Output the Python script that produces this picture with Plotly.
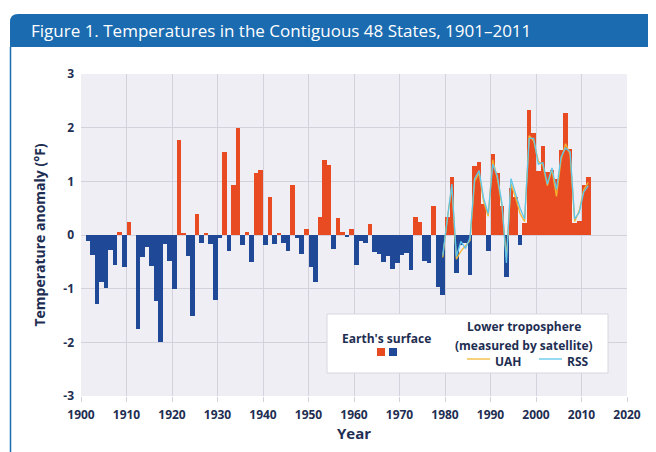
import plotly.graph_objects as go

# ---------------- data ----------------
years = list(range(1901, 2012))
surface_anomaly = [
    -0.12, -0.37, -1.28, -0.88, -0.99, -0.28, -0.56, 0.05, -0.60, 0.25,   # 1901-1910
    0.00, -1.76, -0.41, -0.22, -0.57, -1.23, -2.00, -0.17, -0.49, -1.00,  # 1911-1920
    1.77, 0.02, -0.39, -1.51, 0.40, -0.15, 0.03, -0.17, -1.22, -0.06,     # 1921-1930
    1.54, -0.30, 0.93, 2.00, -0.19, 0.05, -0.51, 1.15, 1.22, -0.19,       # 1931-1940
    0.71, -0.17, 0.03, -0.15, -0.30, 0.93, -0.06, -0.35, 0.11, -0.60,     # 1941-1950
    -0.88, 0.33, 1.39, 1.30, -0.26, 0.32, 0.06, -0.04, 0.11, -0.56,       # 1951-1960
    -0.12, -0.14, 0.20, -0.31, -0.35, -0.51, -0.40, -0.63, -0.52, -0.37,  # 1961-1970
    -0.34, -0.65, 0.33, 0.25, -0.48, -0.52, 0.54, -0.97, -1.11, 0.33,     # 1971-1980
    1.09, -0.70, -0.19, -0.15, -0.74, 1.28, 1.36, 0.58, -0.29, 1.51,      # 1981-1990
    1.15, 0.54, -0.78, 0.87, 0.70, -0.19, 0.23, 2.33, 1.90, 1.20,         # 1991-2000
    1.65, 1.17, 1.22, 1.05, 1.58, 2.27, 1.60, 0.22, 0.26, 0.94,           # 2001-2010
    1.08,                                                                 # 2011
]

sat_years = list(range(1979, 2012))
uah = [
    -0.42, 0.30, 0.90, -0.45, -0.30, -0.20, -0.10, 1.00, 1.15, 0.62,
    0.35, 1.40, 1.05, 0.55, -0.42, 0.95, 0.70, 0.40, 0.25, 1.85,
    1.75, 1.38, 1.30, 0.92, 1.22, 0.72, 1.40, 1.70, 1.50, 0.25,
    0.45, 0.85, 0.98,
]
rss = [
    -0.38, 0.28, 0.95, -0.40, -0.12, -0.25, -0.05, 1.05, 1.20, 0.68,
    0.40, 1.32, 1.10, 0.60, -0.52, 1.05, 0.78, 0.50, 0.30, 1.80,
    1.80, 1.32, 1.35, 0.95, 1.25, 0.85, 1.45, 1.62, 1.55, 0.30,
    0.42, 0.80, 0.92,
]

x_ticks = list(range(1900, 2021, 10))
y_ticks = [-3, -2, -1, 0, 1, 2, 3]

# ---------------- styles ----------------
RED = "#E84A22"
BLUE = "#1F4996"
UAH_C = "#F2B632"
RSS_C = "#5EC6EA"
NAVY = "#1E2E52"
BAND = "#1B6BB0"
FONT = "Open Sans"

# page body has an 8px margin, so the figure is sized/positioned to compensate
OFF = 8
W, H = 656 - OFF, 452 - OFF
PLOT_X0, PLOT_X1, PLOT_Y0, PLOT_Y1 = 81, 627, 74, 396   # page pixels of plot area
L, T = PLOT_X0 - OFF, PLOT_Y0 - OFF
R, B = W - (PLOT_X1 - OFF), H - (PLOT_Y1 - OFF)
PW, PH = W - L - R, H - T - B


def px(xp):
    return (xp - OFF - L) / PW


def py(yp):
    return (H - B - (yp - OFF)) / PH


bar_colors = [RED if v >= 0 else BLUE for v in surface_anomaly]

fig = go.Figure()
fig.add_trace(go.Bar(
    x=years, y=surface_anomaly, width=1, offset=0,
    marker=dict(color=bar_colors, line=dict(width=0)),
    showlegend=False, hoverinfo="x+y",
))
fig.add_trace(go.Scatter(
    x=[y + 0.5 for y in sat_years], y=uah, mode="lines",
    line=dict(color=UAH_C, width=1.3), showlegend=False, name="UAH",
))
fig.add_trace(go.Scatter(
    x=[y + 0.5 for y in sat_years], y=rss, mode="lines",
    line=dict(color=RSS_C, width=1.3), showlegend=False, name="RSS",
))

tickfont = dict(family=FONT, size=12, color=NAVY, weight="bold")

fig.update_layout(
    width=W, height=H,
    margin=dict(l=L, r=R, t=T, b=B, autoexpand=False),
    paper_bgcolor="white",
    plot_bgcolor="#EFEEF5",
    bargap=0,
    xaxis=dict(
        range=[1900, 2020], tickvals=x_ticks, ticktext=[str(v) for v in x_ticks],
        showgrid=True, gridcolor="#D3D1DC", gridwidth=1,
        zeroline=False, showline=False,
        ticks="outside", ticklen=5, tickcolor="#D3D1DC",
        ticklabelstandoff=3,
        tickfont=tickfont, automargin=False,
        title=dict(text="Year", font=dict(family=FONT, size=15, color=NAVY, weight="bold"), standoff=6),
    ),
    yaxis=dict(
        range=[-3, 3], tickvals=y_ticks, ticktext=[str(v) for v in y_ticks],
        showgrid=True, gridcolor="#D3D1DC", gridwidth=1,
        zeroline=False, showline=False,
        ticks="", ticklabelstandoff=6, tickfont=tickfont, automargin=False,
        title=dict(text="Temperature anomaly (°F)", font=dict(family=FONT, size=14, color=NAVY, weight="bold"), standoff=14),
    ),
)

shapes = []
annotations = []

# title band with rounded top-left corner
x0, x1, y0, y1 = px(10), px(656), py(47), py(14)
rpx = 8
shapes.append(dict(
    type="path", xref="paper", yref="paper",
    path=(f"M {x0} {y0} L {x0} {py(14 + rpx)} Q {x0} {y1} {px(10 + rpx)} {y1} "
          f"L {x1} {y1} L {x1} {y0} Z"),
    fillcolor=BAND, line=dict(width=0), layer="above",
))
# frame lines
shapes.append(dict(type="line", xref="paper", yref="paper",
                   x0=px(10.5), x1=px(10.5), y0=py(47), y1=py(452),
                   line=dict(color=BAND, width=1.5)))
shapes.append(dict(type="line", xref="paper", yref="paper",
                   x0=px(650.5), x1=px(650.5), y0=py(47), y1=py(452),
                   line=dict(color=BAND, width=1.5)))
annotations.append(dict(
    xref="paper", yref="paper", x=px(29), y=py(30.5), xanchor="left", yanchor="middle",
    text="Figure 1. Temperatures in the Contiguous 48 States, 1901–2011",
    showarrow=False, font=dict(family=FONT, size=17, color="white"),
))

# legend box
shapes.append(dict(type="rect", xref="paper", yref="paper",
                   x0=px(327), x1=px(608), y0=py(373), y1=py(314),
                   fillcolor="white", line=dict(color="#D8D6E0", width=1), layer="above"))
legfont = dict(family=FONT, size=12, color=NAVY, weight="bold")
annotations.append(dict(xref="paper", yref="paper", x=px(386), y=py(338),
                        text="Earth's surface", showarrow=False, font=legfont,
                        xanchor="center", yanchor="middle", borderpad=0))
shapes.append(dict(type="rect", xref="paper", yref="paper",
                   x0=px(377), x1=px(385), y0=py(356), y1=py(348),
                   fillcolor=RED, line=dict(width=0), layer="above"))
shapes.append(dict(type="rect", xref="paper", yref="paper",
                   x0=px(389), x1=px(397), y0=py(356), y1=py(348),
                   fillcolor=BLUE, line=dict(width=0), layer="above"))
annotations.append(dict(xref="paper", yref="paper", x=px(524), y=py(336),
                        text="Lower troposphere", showarrow=False,
                        font=legfont, xanchor="center", yanchor="bottom", borderpad=0))
annotations.append(dict(xref="paper", yref="paper", x=px(524), y=py(336),
                        text="(measured by satellite)", showarrow=False,
                        font=legfont, xanchor="center", yanchor="top", borderpad=0))
shapes.append(dict(type="line", xref="paper", yref="paper",
                   x0=px(467), x1=px(490), y0=py(359), y1=py(359),
                   line=dict(color=UAH_C, width=1.3), layer="above"))
annotations.append(dict(xref="paper", yref="paper", x=px(494), y=py(352),
                        text="UAH", showarrow=False, font=legfont,
                        xanchor="left", yanchor="top", borderpad=0))
shapes.append(dict(type="line", xref="paper", yref="paper",
                   x0=px(539), x1=px(562), y0=py(359), y1=py(359),
                   line=dict(color=RSS_C, width=1.3), layer="above"))
annotations.append(dict(xref="paper", yref="paper", x=px(566), y=py(352),
                        text="RSS", showarrow=False, font=legfont,
                        xanchor="left", yanchor="top", borderpad=0))

fig.update_layout(shapes=shapes, annotations=annotations)

fig.write_html("out.html")
